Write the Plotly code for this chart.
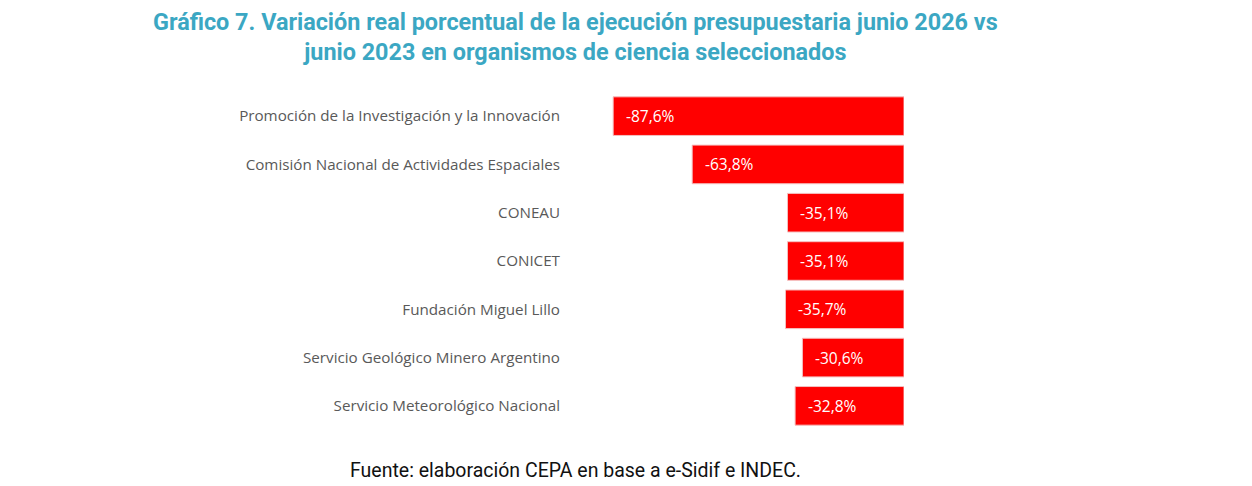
import plotly.graph_objects as go

categories = [
    "Promoción de la Investigación y la Innovación",
    "Comisión Nacional de Actividades Espaciales",
    "CONEAU",
    "CONICET",
    "Fundación Miguel Lillo",
    "Servicio Geológico Minero Argentino",
    "Servicio Meteorológico Nacional",
]
values = [-87.6, -63.8, -35.1, -35.1, -35.7, -30.6, -32.8]
value_labels = ["-87,6%", "-63,8%", "-35,1%", "-35,1%", "-35,7%", "-30,6%", "-32,8%"]

W, H = 1252, 486
fig = go.Figure()
fig.add_trace(go.Bar(
    y=categories, x=values, orientation="h",
    marker=dict(color="#ff0000", line=dict(color="#f4c0c0", width=1)),
    width=0.8, hoverinfo="skip",
))

for c, v, t in zip(categories, values, value_labels):
    fig.add_annotation(x=v, y=c, xref="x", yref="y", text=t, showarrow=False,
                       xanchor="left", xshift=11,
                       font=dict(family="Open Sans, sans-serif", size=15.5, color="white"))

fig.add_annotation(xref="paper", yref="paper", x=(575 - 572) / 332, y=1,
                   text="<b>Gráfico 7. Variación real porcentual de la ejecución presupuestaria junio 2026 vs<br>junio 2023 en organismos de ciencia seleccionados</b>",
                   showarrow=False, xanchor="center", yanchor="bottom", yshift=24,
                   font=dict(family="Roboto, sans-serif", size=23.4, color="#3ba7c3"), align="center")

fig.add_annotation(xref="paper", yref="paper", x=(575 - 572) / 332, y=0,
                   text="Fuente: elaboración CEPA en base a e-Sidif e INDEC.",
                   showarrow=False, xanchor="center", yanchor="middle", yshift=-40,
                   font=dict(family="Roboto, sans-serif", size=19.5, color="#111111"))

fig.update_layout(
    width=W, height=H,
    margin=dict(l=572, r=348, t=92, b=56),
    plot_bgcolor="white", paper_bgcolor="white",
    showlegend=False,
    xaxis=dict(range=[-100, 0], visible=False, fixedrange=True),
    yaxis=dict(autorange="reversed", showgrid=False, zeroline=False, showline=False,
               ticks="", ticklabelstandoff=11,
               tickfont=dict(family="Open Sans, sans-serif", size=15.2, color="#595959")),
)
fig.write_html("out.html")
